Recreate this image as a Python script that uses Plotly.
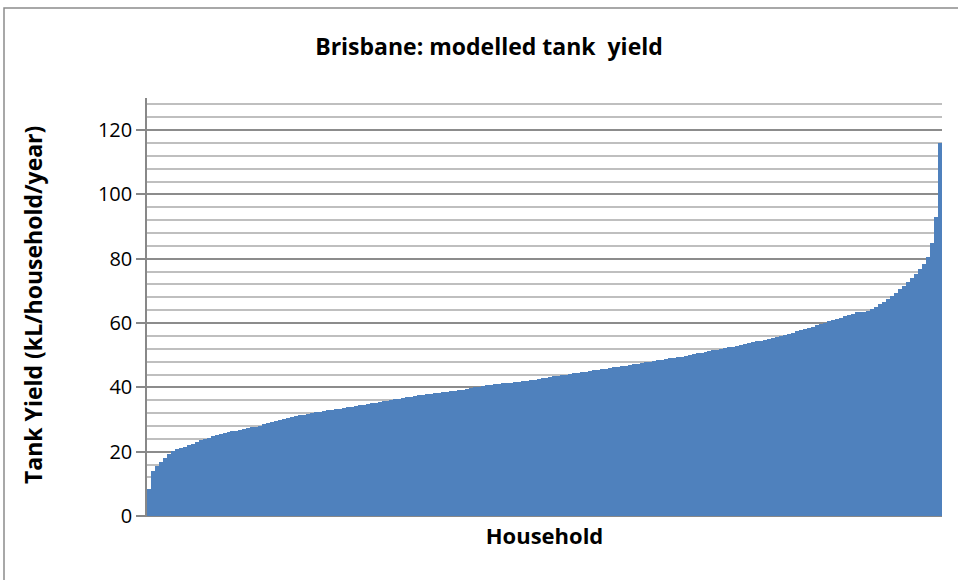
import plotly.graph_objects as go

# Household tank yields (kL/household/year), sorted ascending
yield_values = [
    8.5, 14.0, 15.6, 16.8, 18.0, 19.2, 20.1, 20.8, 21.2, 21.6,
    22.0, 22.5, 23.0, 23.5, 24.0, 24.4, 24.8, 25.1, 25.5, 25.8,
    26.0, 26.3, 26.5, 26.8, 27.0, 27.3, 27.6, 27.8, 28.1, 28.5,
    28.8, 29.1, 29.5, 29.9, 30.2, 30.6, 30.9, 31.1, 31.3, 31.5,
    31.7, 32.0, 32.2, 32.5, 32.7, 32.9, 33.0, 33.2, 33.4, 33.6,
    33.8, 34.0, 34.2, 34.4, 34.6, 34.8, 35.0, 35.3, 35.5, 35.7,
    35.9, 36.1, 36.3, 36.5, 36.7, 36.9, 37.1, 37.3, 37.5, 37.7,
    37.9, 38.0, 38.2, 38.3, 38.5, 38.6, 38.8, 39.0, 39.1, 39.3,
    39.5, 39.8, 40.0, 40.2, 40.4, 40.6, 40.8, 41.0, 41.1, 41.3,
    41.4, 41.5, 41.7, 41.8, 41.9, 42.1, 42.2, 42.4, 42.6, 42.8,
    43.0, 43.2, 43.4, 43.6, 43.8, 44.0, 44.2, 44.4, 44.5, 44.7,
    44.9, 45.1, 45.3, 45.5, 45.6, 45.8, 46.0, 46.2, 46.4, 46.6,
    46.8, 47.0, 47.2, 47.4, 47.6, 47.8, 48.0, 48.2, 48.4, 48.6,
    48.8, 49.0, 49.2, 49.4, 49.6, 49.8, 50.1, 50.3, 50.6, 50.8,
    51.0, 51.3, 51.5, 51.7, 52.0, 52.2, 52.5, 52.7, 53.0, 53.3,
    53.5, 53.8, 54.0, 54.3, 54.5, 54.8, 55.0, 55.3, 55.6, 56.0,
    56.3, 56.7, 57.0, 57.4, 57.8, 58.1, 58.5, 58.9, 59.3, 59.7,
    60.1, 60.5, 60.9, 61.3, 61.7, 62.1, 62.5, 62.9, 63.3, 63.6,
    63.6, 63.9, 64.3, 65.0, 65.8, 66.6, 67.4, 68.4, 69.4, 70.5,
    71.6, 72.7, 74.0, 75.4, 76.8, 78.3, 80.5, 85.0, 93.0, 116.0,
]
households = list(range(1, len(yield_values) + 1))

y_tick_values = [0, 20, 40, 60, 80, 100, 120]
y_tick_labels = ["0", "20", "40", "60", "80", "100", "120"]

title_text = "Brisbane: modelled tank  yield"
x_title = "Household"
y_title = "Tank Yield (kL/household/year)"

FONT = "'Open Sans', Lato, sans-serif"

fig = go.Figure(
    go.Bar(
        x=households,
        y=yield_values,
        marker=dict(color="#4F81BD", line=dict(width=0)),
        hoverinfo="x+y",
    )
)

fig.update_layout(
    width=958,
    height=580,
    margin=dict(l=147, r=16, t=98, b=64),
    paper_bgcolor="white",
    plot_bgcolor="white",
    bargap=0,
    showlegend=False,
    font=dict(family=FONT, color="black"),
    title=dict(
        text="<b>" + title_text + "</b>",
        x=489 / 958,
        xref="container",
        xanchor="center",
        y=1 - 47 / 580,
        yref="container",
        yanchor="middle",
        font=dict(size=23, family=FONT, color="black"),
    ),
)

fig.update_xaxes(
    range=[0.5, len(yield_values) + 0.5],
    showticklabels=False,
    ticks="",
    showgrid=False,
    showline=True,
    linecolor="#888888",
    linewidth=1,
    zeroline=False,
    title=dict(text="<b>" + x_title + "</b>", font=dict(size=22, family=FONT), standoff=12),
)

fig.update_yaxes(
    range=[0, 130],
    tickvals=y_tick_values,
    ticktext=y_tick_labels,
    ticks="outside",
    ticklen=9,
    tickcolor="#888888",
    tickwidth=1.5,
    tickfont=dict(size=20, family=FONT, color="black"),
    showline=True,
    linecolor="#888888",
    linewidth=1.5,
    showgrid=True,
    gridcolor="#8c8c8c",
    gridwidth=1.5,
    zeroline=False,
    minor=dict(dtick=4, showgrid=True, gridcolor="#bfbfbf", gridwidth=1.5, ticks=""),
    layer="below traces",
)

fig.add_annotation(
    text="<b>" + y_title + "</b>",
    xref="paper",
    yref="paper",
    x=(33 - 147) / 795,
    y=(516 - 305) / 418,
    xanchor="center",
    yanchor="middle",
    textangle=-90,
    showarrow=False,
    font=dict(size=23, family=FONT, color="black"),
)

# Outer chart frame (left and top edges visible, the rest runs off the image)
fig.add_shape(
    type="rect",
    xref="paper",
    yref="paper",
    x0=(4 - 147) / 795,
    x1=1.2,
    y0=-0.3,
    y1=(516 - 8) / 418,
    line=dict(color="#8c8c8c", width=1.5),
    fillcolor="rgba(0,0,0,0)",
    layer="below",
)

fig.write_html(
    "out.html",
    config={"displayModeBar": False},
    post_script="document.body.style.margin='0';document.body.style.padding='0';",
)
